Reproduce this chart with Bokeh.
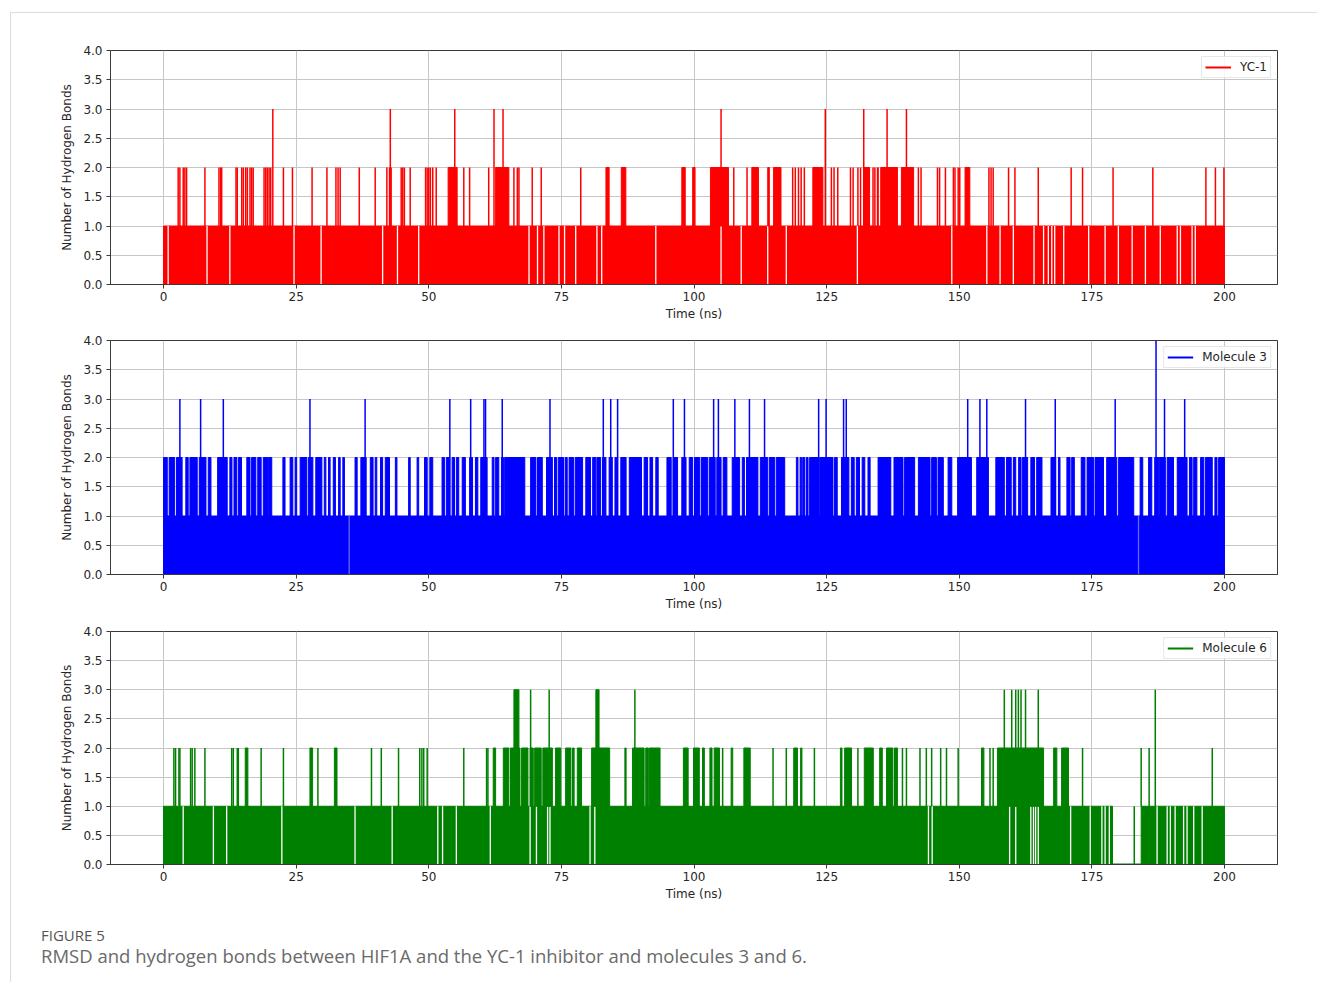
from bokeh.plotting import figure
from bokeh.layouts import column
from bokeh.models import FixedTicker, NumeralTickFormatter, Legend, LegendItem, Div
from bokeh.embed import file_html
from bokeh.resources import INLINE

# ---------------- data (time in ns, value = number of hydrogen bonds) ----------------
T_START, T_END = 0.0, 200.0
X_TICKS = [0, 25, 50, 75, 100, 125, 150, 175, 200]
Y_TICKS = [0.0, 0.5, 1.0, 1.5, 2.0, 2.5, 3.0, 3.5, 4.0]
SERIES_NAMES = ["YC-1", "Molecule 3", "Molecule 6"]
SERIES_COLORS = ["#ff0000", "#0000ff", "#008000"]

# ---- YC-1 ----
yc1_base_runs = [(0.0, 200.0)]
yc1_one_spikes = []
yc1_gaps = [0.87, 8.2, 12.5, 24.6, 29.7, 41.3, 44.1, 48.1, 68.9, 70.5, 71.7, 74.55, 75.6,
            77.7, 81.7, 82.6, 92.8, 105.1, 108.9, 113.9, 117.4, 130.8, 148.6, 155.2, 157.7,
            160.2, 164.1, 165.9, 166.8, 167.45, 168.0, 169.7, 174.4, 177.5, 180.0, 182.6,
            185.1, 187.9, 191.1, 191.7, 193.9, 194.5]
yc1_two_spikes = [2.76, 3.08, 3.71, 4.02, 4.34, 7.8, 10.45, 10.77, 10.96, 13.66, 13.9, 14.74,
                  15.04, 15.49, 15.8, 16.3, 16.6, 16.9, 18.95, 19.27, 19.57, 19.9, 20.2, 22.6,
                  24.3, 28.0, 30.8, 32.5, 32.9, 33.3, 36.9, 39.9, 42.1, 42.6, 42.9, 44.8, 45.1,
                  45.4, 46.5, 49.4, 49.7, 50.0, 50.3, 50.75, 51.4, 56.6, 57.7, 61.3, 66.05,
                  66.7, 67.0, 69.5, 71.2, 78.65, 107.5, 110.0, 118.6, 119.1, 119.7, 120.2,
                  120.8, 125.9, 126.4, 127.1, 129.5, 130.0, 130.9, 131.4, 133.75, 134.7,
                  134.1, 134.6, 142.3, 142.8, 145.9, 146.3, 147.4, 148.9, 149.2, 149.8, 150.1,
                  155.6, 156.0, 156.4, 159.3, 160.5, 164.9, 171.1, 173.25, 179.0, 186.5,
                  196.5, 198.3, 199.9]
yc1_two_runs = [(53.65, 55.35), (62.6, 65.1), (83.4, 84.0), (86.3, 87.15), (97.7, 98.35),
                (99.75, 100.2), (103.1, 106.5), (110.9, 112.15), (113.9, 114.2), (115.0, 116.4),
                (122.4, 124.3), (132.0, 133.1), (135.2, 138.35), (139.1, 141.4), (151.1, 152.0)]
yc1_three_spikes = [20.6, 42.75, 54.9, 62.3, 64.0, 105.1, 124.75, 132.0, 136.4, 140.05]
yc1_three_runs = []
yc1_four_spikes = []

# ---- Molecule 3 ----
m3_base_runs = [(0.0, 200.0)]
m3_one_spikes = []
m3_gaps = [35.0, 183.8]
m3_two_spikes = []
m3_two_runs = [
    (0.0, 0.7), (1.06, 2.1), (2.45, 3.5), (4.2, 4.65), (4.97, 6.35), (6.73, 8.0), (8.43, 8.94),
    (10.2, 12.0), (12.5, 12.9), (13.28, 13.8), (14.1, 14.7), (15.7, 16.3), (16.6, 17.4),
    (17.76, 18.4), (18.8, 19.6), (19.76, 20.4), (22.5, 22.9), (23.86, 24.37), (24.8, 25.1),
    (25.75, 27.0), (27.3, 28.15), (28.7, 29.85), (30.3, 30.6), (31.1, 31.4), (32.0, 32.4),
    (33.0, 33.3), (33.8, 34.1), (36.1, 36.5), (37.2, 38.2), (38.98, 39.5), (39.9, 40.2),
    (40.9, 41.3), (41.8, 42.6), (43.7, 44.0), (46.2, 46.5), (47.8, 48.1), (49.2, 49.7),
    (50.2, 50.75), (52.5, 52.95), (53.3, 53.95), (54.4, 54.85), (55.2, 55.65), (56.3, 56.9),
    (57.7, 58.25), (58.8, 59.25), (59.8, 61.0), (61.96, 62.3), (62.6, 63.2), (63.7, 64.1),
    (64.3, 68.1), (69.2, 70.2), (70.5, 71.4), (72.2, 73.3), (73.7, 74.1), (74.4, 75.4),
    (75.7, 76.1), (76.45, 77.3), (77.6, 79.0), (79.6, 80.5), (80.9, 81.5), (81.7, 82.4),
    (82.75, 83.4), (84.0, 84.6), (85.1, 85.6), (86.2, 87.2), (87.8, 90.1), (90.6, 91.25),
    (91.7, 92.2), (92.8, 93.25), (94.9, 95.7), (96.1, 96.9), (97.7, 98.5), (99.1, 99.75),
    (100.1, 101.1), (101.4, 102.6), (102.9, 104.0), (104.3, 105.1), (105.5, 106.2),
    (107.2, 108.6), (109.1, 109.5), (109.9, 112.05), (112.5, 113.9), (114.2, 115.2),
    (115.5, 117.1), (119.3, 119.6), (120.0, 120.3), (120.5, 120.9), (121.2, 121.5),
    (121.8, 123.4), (123.7, 126.2), (126.5, 127.0), (127.8, 129.2), (129.66, 130.2),
    (130.6, 131.2), (131.7, 132.2), (132.8, 133.2), (134.7, 137.1), (137.7, 139.4),
    (139.7, 141.6), (142.3, 144.5), (144.8, 145.7), (146.0, 147.0), (147.9, 148.6),
    (149.7, 152.3), (153.3, 155.5), (156.9, 158.5), (158.9, 159.8), (160.2, 160.65),
    (161.2, 161.65), (161.9, 162.9), (163.5, 164.2), (164.6, 165.6), (167.3, 168.2),
    (168.7, 169.0), (170.3, 170.9), (171.2, 171.7), (173.0, 173.7), (174.1, 175.3),
    (175.6, 177.2), (177.8, 179.7), (180.05, 182.9), (184.1, 184.6), (185.7, 186.3),
    (186.85, 187.6), (187.7, 188.85), (189.2, 190.4), (191.1, 192.95), (193.4, 193.9),
    (194.2, 194.8), (195.5, 196.1), (196.4, 197.7), (198.2, 198.6), (198.9, 200.0)]
m3_three_spikes = [3.08, 6.99, 11.27, 27.6, 38.0, 53.97, 57.9, 60.4, 60.7, 63.85, 72.85, 82.9,
                   84.3, 85.6, 96.1, 98.2, 103.7, 104.6, 107.7, 110.45, 113.3, 123.5, 124.9,
                   128.2, 128.7, 151.6, 153.9, 155.2, 162.5, 168.1, 179.4, 188.7, 192.5]
m3_three_runs = []
m3_four_spikes = [187.1]

# ---- Molecule 6 ----
m6_base_runs = [(0.0, 178.9), (184.3, 200.0)]
m6_one_spikes = [183.0]
m6_gaps = [3.7, 9.4, 11.9, 22.3, 36.1, 43.1, 51.7, 52.6, 55.2, 61.6, 69.1, 70.3, 72.4, 72.85,
           80.4, 81.3, 144.2, 144.9, 159.5, 160.65, 163.5, 164.0, 164.4, 164.9, 171.0, 174.7,
           176.9, 177.5, 178.3, 187.3, 189.2, 189.8, 190.7, 192.3, 192.95, 194.2, 195.8]
m6_two_spikes = [1.95, 2.27, 2.9, 3.08, 5.1, 5.4, 5.9, 7.8, 12.85, 13.15, 13.9, 14.1, 18.4,
                 22.6, 29.1, 39.2, 41.05, 44.3, 48.3, 48.7, 49.05, 49.7, 56.6, 60.9, 61.15,
                 65.75, 66.2, 105.4, 114.9, 117.4, 122.7, 130.9, 139.3, 140.05, 142.6, 143.8,
                 144.8, 146.5, 147.6, 149.8, 155.8, 156.4, 173.25, 184.3, 185.8, 197.7]
m6_two_runs = [(15.4, 15.9), (27.6, 28.1), (32.2, 32.7), (62.15, 62.6), (64.05, 65.1),
               (65.4, 67.2), (67.5, 68.7), (69.1, 69.7), (69.96, 71.2), (71.5, 73.3),
               (73.9, 74.9), (75.8, 76.8), (77.1, 77.4), (78.0, 78.8), (80.7, 84.1),
               (86.97, 87.2), (88.4, 90.6), (90.9, 91.4), (91.6, 93.6), (98.0, 98.9),
               (99.9, 101.0), (101.6, 101.95), (103.0, 103.4), (103.8, 104.8), (107.0, 107.3),
               (109.4, 110.6), (118.8, 119.5), (120.1, 120.35), (127.6, 127.9), (128.4, 129.7),
               (132.1, 133.8), (135.0, 135.5), (136.3, 137.5), (137.8, 138.35), (154.2, 154.65),
               (157.2, 165.9), (167.8, 168.4), (169.3, 170.6)]
m6_three_spikes = [69.2, 72.7, 88.85, 158.5, 159.9, 160.65, 161.15, 161.65, 162.5, 164.9, 186.96]
m6_three_runs = [(66.05, 67.0), (81.5, 82.1)]
m6_four_spikes = []

SERIES = [
    (yc1_base_runs, yc1_one_spikes, yc1_gaps, yc1_two_spikes, yc1_two_runs,
     yc1_three_spikes, yc1_three_runs, yc1_four_spikes, 1.0),
    (m3_base_runs, m3_one_spikes, m3_gaps, m3_two_spikes, m3_two_runs,
     m3_three_spikes, m3_three_runs, m3_four_spikes, 0.4),
    (m6_base_runs, m6_one_spikes, m6_gaps, m6_two_spikes, m6_two_runs,
     m6_three_spikes, m6_three_runs, m6_four_spikes, 1.0),
]

# ---------------- styling ----------------
FONT = "DejaVu Sans"
TXT = "#262626"
SPINE = "#3a3a3a"
GRID = "#c6c6c6"
LW = 1.5

FRAME_W = 1167
LEFT_B = 99
FIG_W = 1300
TOPS = [37, 10, 11]
FRAME_HS = [234, 234, 233]
BOTTOM_B = 46


def spikes(p, times, y0, y1, color, alpha=1.0, width=LW):
    if times:
        p.segment(x0=times, y0=[y0] * len(times), x1=times, y1=[y1] * len(times),
                  line_color=color, line_width=width, line_alpha=alpha)


def runs(p, intervals, bottom, top, color):
    if intervals:
        p.quad(left=[a for a, b in intervals], right=[b for a, b in intervals],
               bottom=[bottom] * len(intervals), top=[top] * len(intervals),
               fill_color=color, line_color=color, line_width=1)


def make_panel(i):
    name, color = SERIES_NAMES[i], SERIES_COLORS[i]
    base, ones, gaps, two_s, two_r, three_s, three_r, four_s, gap_alpha = SERIES[i]
    p = figure(width=FIG_W, height=TOPS[i] + FRAME_HS[i] + BOTTOM_B,
               x_range=(-10, 210), y_range=(0, 4),
               output_backend="svg", toolbar_location=None,
               min_border_left=LEFT_B, min_border_right=FIG_W - LEFT_B - FRAME_W,
               min_border_top=TOPS[i], min_border_bottom=BOTTOM_B,
               background_fill_color="white", border_fill_color="white")
    p.outline_line_color = SPINE
    p.outline_line_width = 1

    # value-0 line (also used as the legend sample), then the signal
    zero = p.line(x=[T_START, T_END], y=[0, 0], line_color=color, line_width=2)
    runs(p, base, 0, 1, color)
    spikes(p, ones, 0, 1, color)
    spikes(p, gaps, 0, 1, "white", alpha=gap_alpha, width=1.3)
    runs(p, two_r, 1, 2, color)
    spikes(p, two_s, 1, 2, color)
    runs(p, three_r, 2, 3, color)
    spikes(p, three_s, 1, 3, color)
    spikes(p, four_s, 1, 4, color)

    # legend
    leg = Legend(items=[LegendItem(label=name, renderers=[zero])], location="top_right",
                 margin=6, padding=3, spacing=0, glyph_width=26, glyph_height=12,
                 label_height=12, label_standoff=9, label_text_font=FONT,
                 label_text_font_size="12px", label_text_color=TXT,
                 border_line_color="#d0d0d0", border_line_width=1,
                 background_fill_color="white", background_fill_alpha=0.85)
    p.add_layout(leg)

    # axes
    p.xaxis.ticker = FixedTicker(ticks=X_TICKS)
    p.yaxis.ticker = FixedTicker(ticks=Y_TICKS)
    p.yaxis.formatter = NumeralTickFormatter(format="0.0")
    p.xaxis.axis_label = "Time (ns)"
    p.yaxis.axis_label = "Number of Hydrogen Bonds"
    for ax in (p.xaxis[0], p.yaxis[0]):
        ax.axis_line_color = SPINE
        ax.major_tick_line_color = SPINE
        ax.major_tick_out = 4
        ax.major_tick_in = 0
        ax.minor_tick_line_color = None
        ax.major_label_text_font = FONT
        ax.major_label_text_font_size = "12px"
        ax.major_label_text_color = TXT
        ax.axis_label_text_font = FONT
        ax.axis_label_text_font_size = "12px"
        ax.axis_label_text_font_style = "normal"
        ax.axis_label_text_color = TXT
    p.xaxis.major_label_standoff = 3
    p.xaxis.axis_label_standoff = 3
    p.yaxis.major_label_standoff = 4
    p.yaxis.axis_label_standoff = 6
    for g in (p.xgrid[0], p.ygrid[0]):
        g.grid_line_color = GRID
        g.grid_line_width = 1
    return p


panels = [make_panel(i) for i in range(3)]

caption = Div(
    text=("<div style=\"font-family:'Open Sans',sans-serif;color:#555;font-size:15px;"
          "line-height:19px;\">FIGURE 5</div>"
          "<div style=\"font-family:'Open Sans',sans-serif;color:#6a6a6a;font-size:18.5px;"
          "line-height:22px;\">RMSD and hydrogen bonds between HIF1A and the YC-1 "
          "inhibitor and molecules 3 and 6.</div>"),
    width=FIG_W - 24, height=56, margin=(16, 0, 0, 30))

layout = column(*panels, caption, margin=(12, 0, 0, 10), spacing=0,
                styles={"border-top": "1px solid #dcdcdc", "border-left": "1px solid #dcdcdc"})

open("out.html", "w").write(file_html(layout, INLINE))
